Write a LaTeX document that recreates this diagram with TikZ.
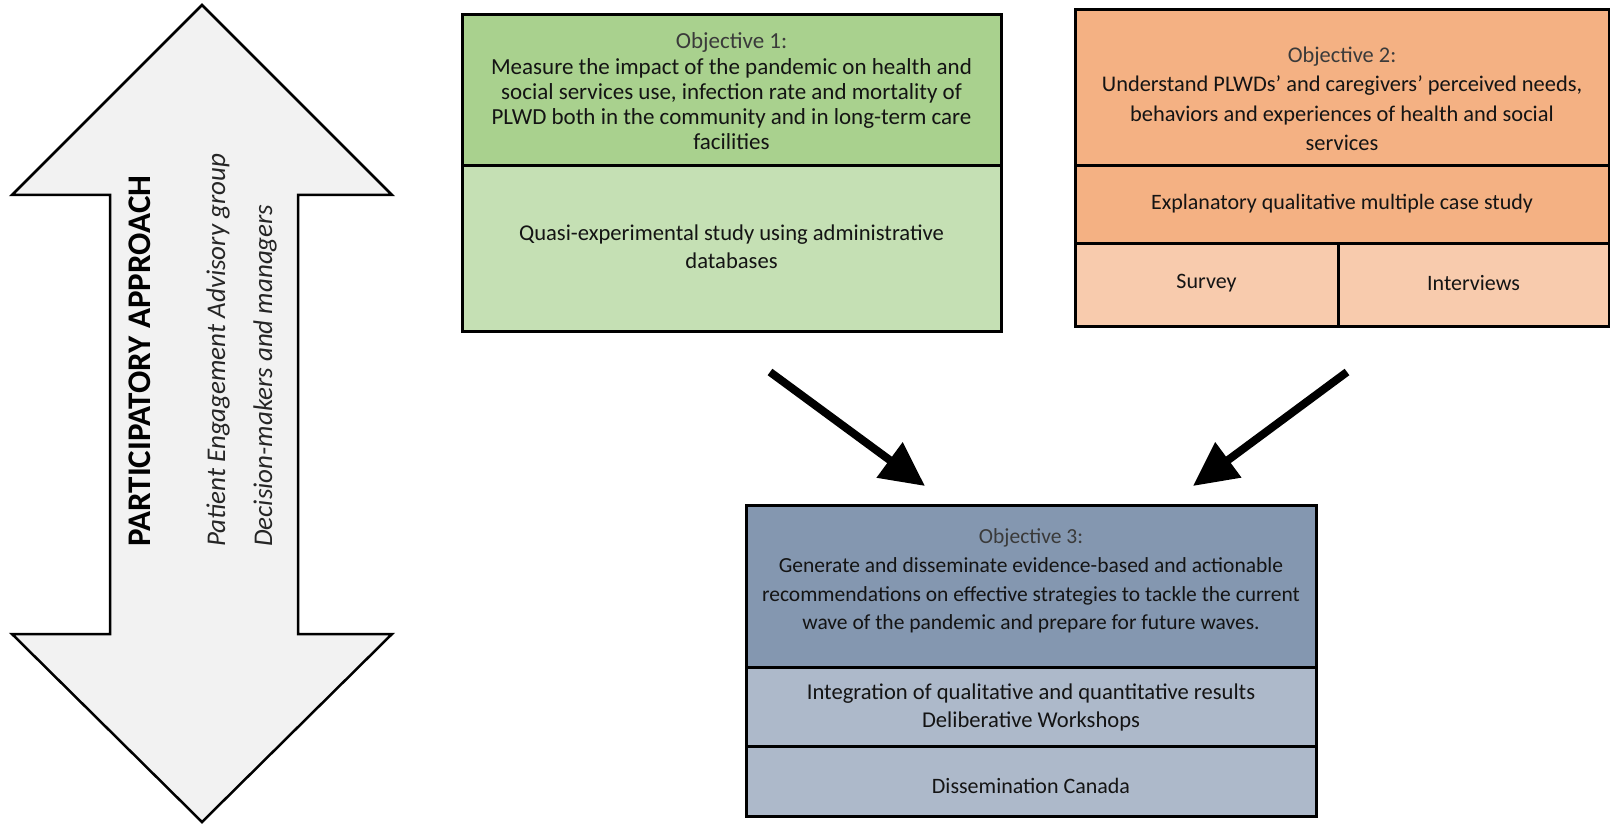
\documentclass[tikz,border=0pt]{standalone}
\usepackage{fontspec}
\setmainfont{Carlito}
\usetikzlibrary{arrows.meta}
\definecolor{gA}{HTML}{A9D18E}
\definecolor{gB}{HTML}{C5E0B4}
\definecolor{oA}{HTML}{F4B183}
\definecolor{oB}{HTML}{F8CBAD}
\definecolor{bA}{HTML}{8497B0}
\definecolor{bB}{HTML}{ADB9CA}
\definecolor{arrfill}{HTML}{F2F2F2}
\definecolor{headgray}{HTML}{3A3A3A}
\begin{document}
\begin{tikzpicture}[x=1pt,y=-1pt,
  cell/.style={draw=black, line width=3pt, rectangle, anchor=north west, inner sep=0pt, outer sep=0pt},
  txt/.style={align=center, inner sep=0pt, text=black!92, font=\fontsize{22}{28}\selectfont},
  flow/.style={line width=8pt, -{Triangle[length=44pt,width=42pt]}},
  sidetext/.style={rotate=90, anchor=west, inner sep=0pt, font=\fontsize{27}{32}\selectfont\itshape, text=black!85}]
\useasboundingbox (0,0) rectangle (1610,826);
% double arrow
\draw[line width=2.5pt, fill=arrfill, line join=miter]
  (202,5) -- (392,195) -- (298,195) -- (298,634) -- (392,634) -- (202,822)
  -- (12,634) -- (110,634) -- (110,195) -- (12,195) -- cycle;
\node[sidetext, font=\fontsize{33}{36}\selectfont\bfseries, text=black] (pa) at (140,547) {PARTICIPATORY APPROACH};
\node[sidetext] (pe) at (218,547) {Patient Engagement Advisory group};
\node[sidetext] (dm) at (265,547) {Decision-makers and managers};
% objective 1
\node[cell, fill=gA, minimum width=539pt, minimum height=151pt] (o1h) at (462,15) {};
\node[cell, fill=gB, minimum width=539pt, minimum height=166pt] (o1m) at (462,166) {};
% objective 2
\node[cell, fill=oA, minimum width=534pt, minimum height=156pt] (o2h) at (1075,10) {};
\node[cell, fill=oA, minimum width=534pt, minimum height=78pt] (o2m) at (1075,166) {};
\node[cell, fill=oB, minimum width=263pt, minimum height=83pt] (o2s) at (1075,244) {};
\node[cell, fill=oB, minimum width=271pt, minimum height=83pt] (o2i) at (1338,244) {};
% objective 3
\node[cell, fill=bA, minimum width=570pt, minimum height=162pt] (o3h) at (746,505) {};
\node[cell, fill=bB, minimum width=570pt, minimum height=79pt] (o3m) at (746,667) {};
\node[cell, fill=bB, minimum width=570pt, minimum height=70pt] (o3d) at (746,746) {};
% texts
\path (o1h.center) ++(0,1) node[txt, font=\fontsize{23}{25.2}\selectfont] (t1h)
  {{\color{headgray}Objective 1:}\\Measure the impact of the pandemic on health and\\social services use, infection rate and mortality of\\PLWD both in the community and in long-term care\\facilities};
\path (o1m.center) ++(0,-2) node[txt, font=\fontsize{22.6}{28}\selectfont] (t1m)
  {Quasi-experimental study using administrative\\databases};
\path (o2h.center) ++(0,11) node[txt, font=\fontsize{22.4}{29.5}\selectfont] (t2h)
  {{\color{headgray}Objective 2:}\\Understand PLWDs’ and caregivers’ perceived needs,\\behaviors and experiences of health and social\\services};
\path (o2m.center) ++(0,-1) node[txt] (t2m) {Explanatory qualitative multiple case study};
\path (o2s.center) ++(0,-2) node[txt] (t2s) {Survey};
\path (o2i.center) ++(0,-2) node[txt] (t2i) {Interviews};
\path (o3h.center) ++(0,-5) node[txt, font=\fontsize{21.5}{28.8}\selectfont] (t3h)
  {{\color{headgray}Objective 3:}\\Generate and disseminate evidence-based and actionable\\recommendations on effective strategies to tackle the current\\wave of the pandemic and prepare for future waves.};
\path (o3m.center) ++(0,1) node[txt, font=\fontsize{22.6}{28}\selectfont] (t3m)
  {Integration of qualitative and quantitative results\\Deliberative Workshops};
\path (o3d.center) ++(0,5) node[txt] (t3d) {Dissemination Canada};
% flow arrows
\coordinate (a1s) at (770,372);
\coordinate (a1e) at (925,486);
\coordinate (a2s) at (1347,372);
\coordinate (a2e) at (1193,486);
\draw[flow] (a1s) -- (a1e);
\draw[flow] (a2s) -- (a2e);
\end{tikzpicture}
\end{document}
